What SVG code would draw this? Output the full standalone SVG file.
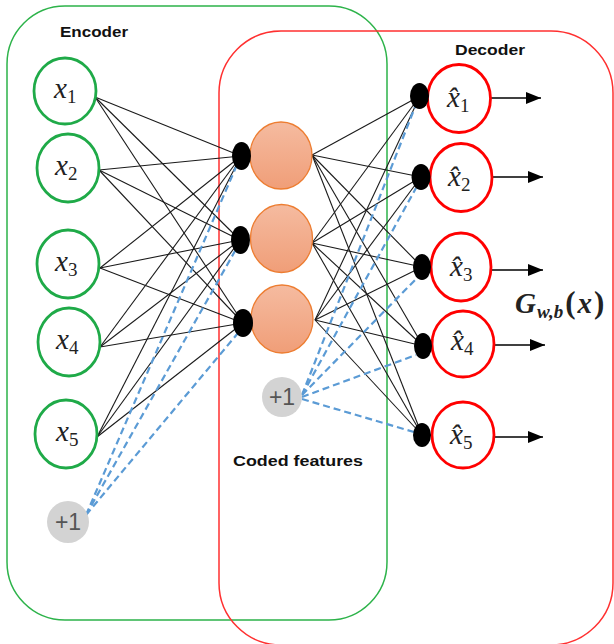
<svg xmlns="http://www.w3.org/2000/svg" width="614" height="644" viewBox="0 0 614 644">
<defs>
<linearGradient id="og" x1="0" y1="0" x2="0" y2="1">
<stop offset="0" stop-color="#F5BBA0"/>
<stop offset="1" stop-color="#F09E78"/>
</linearGradient>
<marker id="ah" markerWidth="16" markerHeight="12" refX="15" refY="6" orient="auto" markerUnits="userSpaceOnUse">
<path d="M0,0 L15,6 L0,12 Z" fill="#000"/>
</marker>
</defs>
<style>
.frameG{fill:none;stroke:#2DB34A;stroke-width:1.5}
.frameR{fill:none;stroke:#FF3030;stroke-width:1.5}
.inN{fill:#fff;stroke:#1FAA48;stroke-width:2.8}
.outN{fill:#fff;stroke:#FF0000;stroke-width:2.8}
.hid{fill:url(#og);stroke:#ED7D31;stroke-width:1.3}
.dot{fill:#000}
.bias{fill:#D3D3D3}
.w{stroke:#1a1a1a;stroke-width:1.1;fill:none}
.b{stroke:#5B9BD5;stroke-width:2.2;stroke-dasharray:7 4;fill:none}
.arr{stroke:#000;stroke-width:1.3;fill:none;marker-end:url(#ah)}
.lbl{font-family:"Liberation Sans",Arial,sans-serif;font-weight:bold;font-size:15.5px;fill:#111}
.math{font-family:"Liberation Serif","DejaVu Serif",serif;font-style:italic;font-size:29px;fill:#222}
.sub{font-family:"Liberation Serif","DejaVu Serif",serif;font-style:normal;font-size:19px}
.one{font-family:"Liberation Sans",Arial,sans-serif;font-size:23px;fill:#555}
</style>

<rect class="frameG" x="7" y="6" width="380" height="614" rx="58" ry="58"/>
<rect class="frameR" x="219" y="31" width="394" height="614" rx="62" ry="62"/>

<g id="connectors">
<g>
<line class="w" x1="95" y1="97" x2="241" y2="156"/>
<line class="w" x1="95" y1="97" x2="240" y2="240"/>
<line class="w" x1="95" y1="97" x2="243" y2="323"/>
<line class="w" x1="99" y1="170" x2="241" y2="156"/>
<line class="w" x1="99" y1="170" x2="240" y2="240"/>
<line class="w" x1="99" y1="170" x2="243" y2="323"/>
<line class="w" x1="100" y1="268" x2="241" y2="156"/>
<line class="w" x1="100" y1="268" x2="240" y2="240"/>
<line class="w" x1="100" y1="268" x2="243" y2="323"/>
<line class="w" x1="100" y1="347" x2="241" y2="156"/>
<line class="w" x1="100" y1="347" x2="240" y2="240"/>
<line class="w" x1="100" y1="347" x2="243" y2="323"/>
<line class="w" x1="97" y1="437" x2="241" y2="156"/>
<line class="w" x1="97" y1="437" x2="240" y2="240"/>
<line class="w" x1="97" y1="437" x2="243" y2="323"/>
</g>
<g>
<line class="w" x1="312" y1="155" x2="420" y2="96"/>
<line class="w" x1="312" y1="155" x2="421" y2="177"/>
<line class="w" x1="312" y1="155" x2="422" y2="267"/>
<line class="w" x1="312" y1="155" x2="423" y2="346"/>
<line class="w" x1="312" y1="155" x2="422" y2="435"/>
<line class="w" x1="312" y1="243" x2="420" y2="96"/>
<line class="w" x1="312" y1="243" x2="421" y2="177"/>
<line class="w" x1="312" y1="243" x2="422" y2="267"/>
<line class="w" x1="312" y1="243" x2="423" y2="346"/>
<line class="w" x1="312" y1="243" x2="422" y2="435"/>
<line class="w" x1="315" y1="320" x2="420" y2="96"/>
<line class="w" x1="315" y1="320" x2="421" y2="177"/>
<line class="w" x1="315" y1="320" x2="422" y2="267"/>
<line class="w" x1="315" y1="320" x2="423" y2="346"/>
<line class="w" x1="315" y1="320" x2="422" y2="435"/>
</g>
<g>
<line class="b" x1="86" y1="515" x2="236" y2="167"/>
<line class="b" x1="86" y1="515" x2="235" y2="251"/>
<line class="b" x1="86" y1="515" x2="238" y2="333"/>
<line class="b" x1="302" y1="395" x2="415" y2="107"/>
<line class="b" x1="302" y1="395" x2="416" y2="188"/>
<line class="b" x1="302" y1="395" x2="417" y2="278"/>
<line class="b" x1="302" y1="397" x2="416" y2="355"/>
<line class="b" x1="302" y1="399" x2="414" y2="432"/>
</g>
<g>
<line class="arr" x1="491" y1="98" x2="541" y2="98"/>
<line class="arr" x1="492" y1="177" x2="543" y2="177"/>
<line class="arr" x1="492" y1="270" x2="543" y2="270"/>
<line class="arr" x1="495" y1="345" x2="545" y2="345"/>
<line class="arr" x1="494" y1="437" x2="543" y2="437"/>
</g>
</g>

<g id="in1"><ellipse class="inN" cx="65" cy="91" rx="31" ry="33"/><text class="math" x="54" y="98">x<tspan class="sub" dy="5">1</tspan></text></g>
<g id="in2"><ellipse class="inN" cx="68" cy="168" rx="31" ry="34"/><text class="math" x="55" y="175">x<tspan class="sub" dy="5">2</tspan></text></g>
<g id="in3"><ellipse class="inN" cx="68" cy="264" rx="31" ry="34"/><text class="math" x="55" y="271">x<tspan class="sub" dy="5">3</tspan></text></g>
<g id="in4"><ellipse class="inN" cx="69" cy="342" rx="31" ry="34"/><text class="math" x="56" y="349">x<tspan class="sub" dy="5">4</tspan></text></g>
<g id="in5"><ellipse class="inN" cx="66" cy="434" rx="31" ry="34"/><text class="math" x="56" y="441">x<tspan class="sub" dy="5">5</tspan></text></g>

<g id="bias1"><circle class="bias" cx="68" cy="522" r="21"/><text class="one" x="68" y="530" text-anchor="middle">+1</text></g>

<g id="h1"><ellipse class="hid" cx="281" cy="155.5" rx="31" ry="33.5"/><ellipse class="dot" cx="241.5" cy="156" rx="9.5" ry="14"/></g>
<g id="h2"><ellipse class="hid" cx="281.5" cy="238.5" rx="31" ry="34"/><ellipse class="dot" cx="240.5" cy="240" rx="9.5" ry="14"/></g>
<g id="h3"><ellipse class="hid" cx="282" cy="319" rx="31" ry="34"/><ellipse class="dot" cx="243" cy="323" rx="10" ry="14"/></g>

<g id="bias2"><circle class="bias" cx="282" cy="397" r="20"/><text class="one" x="282" y="405" text-anchor="middle">+1</text></g>

<g id="o1"><ellipse class="outN" cx="459" cy="98.5" rx="31.5" ry="34"/><ellipse class="dot" cx="419.5" cy="96" rx="9.5" ry="13"/><text class="math" x="447" y="107">x̂<tspan class="sub" dy="5">1</tspan></text></g>
<g id="o2"><ellipse class="outN" cx="461" cy="177.5" rx="31" ry="34"/><ellipse class="dot" cx="421" cy="177" rx="9.5" ry="13"/><text class="math" x="448" y="186">x̂<tspan class="sub" dy="5">2</tspan></text></g>
<g id="o3"><ellipse class="outN" cx="461" cy="267" rx="30" ry="34"/><ellipse class="dot" cx="422" cy="267" rx="9" ry="13"/><text class="math" x="450" y="276">x̂<tspan class="sub" dy="5">3</tspan></text></g>
<g id="o4"><ellipse class="outN" cx="463" cy="344" rx="31" ry="33"/><ellipse class="dot" cx="423" cy="346" rx="9" ry="13"/><text class="math" x="451" y="350">x̂<tspan class="sub" dy="5">4</tspan></text></g>
<g id="o5"><ellipse class="outN" cx="463" cy="435" rx="31" ry="33"/><ellipse class="dot" cx="422" cy="435" rx="9" ry="12"/><text class="math" x="450" y="444">x̂<tspan class="sub" dy="5">5</tspan></text></g>

<text class="lbl" x="60" y="37" textLength="68" lengthAdjust="spacingAndGlyphs">Encoder</text>
<text class="lbl" x="455" y="55" textLength="70" lengthAdjust="spacingAndGlyphs">Decoder</text>
<text class="lbl" x="233" y="466" textLength="130" lengthAdjust="spacingAndGlyphs">Coded features</text>
<text x="515" y="313" style="font-family:'Liberation Serif','DejaVu Serif',serif;font-weight:bold;font-size:29px;fill:#222"><tspan font-style="italic">G</tspan><tspan font-style="italic" font-size="19" dy="5" dx="1">w,b</tspan><tspan dy="-5" dx="2" font-size="31">(</tspan><tspan font-style="italic" dx="2">x</tspan><tspan font-size="31" dx="2">)</tspan></text>
</svg>
